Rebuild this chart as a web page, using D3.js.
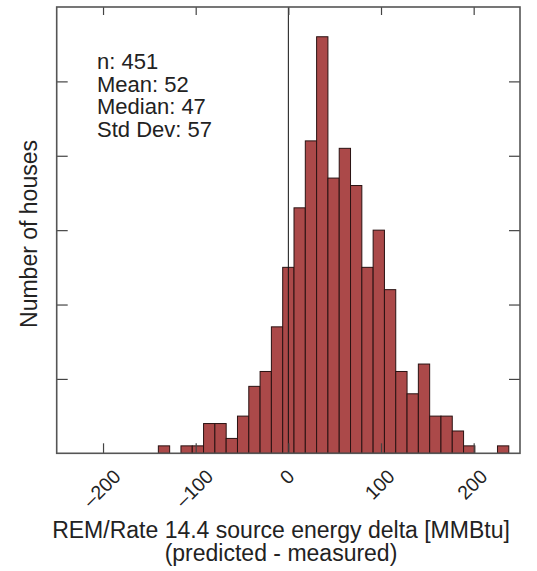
<!DOCTYPE html>
<html>
<head>
<meta charset="utf-8">
<script src="https://cdn.jsdelivr.net/npm/d3@7/dist/d3.min.js"></script>
<style>
  html, body { margin: 0; padding: 0; background: #fff; }
  svg { display: block; font-family: "Liberation Sans", Arial, Helvetica, sans-serif; }
</style>
</head>
<body>
<svg id="chart" width="537" height="571"></svg>
<script>
// ---- data ----
const binWidth = 12.2;
const binCenters = [-134.2, -122, -109.8, -97.6, -85.4, -73.2, -61, -48.8, -36.6, -24.4, -12.2,
  0, 12.2, 24.4, 36.6, 48.8, 61, 73.2, 85.4, 97.6, 109.8, 122, 134.2, 146.4, 158.6, 170.8,
  183, 195.2, 207.4, 219.6, 231.8];
const counts = [1, 0, 1, 1, 4, 4, 2, 5, 9, 11, 17,
  25, 33, 42, 56, 37, 41, 36, 25, 30, 22, 11, 8, 12, 5, 5,
  3, 1, 0, 0, 1];
const xTicks = [-200, -100, 0, 100, 200];
const xTickLabels = ["\u2013200", "\u2013100", "0", "100", "200"];
const yTicks = [10, 20, 30, 40, 50];
const statLines = ["n: 451", "Mean: 52", "Median: 47", "Std Dev: 57"];
const xTitle = ["REM/Rate 14.4 source energy delta [MMBtu]", "(predicted - measured)"];
const yTitle = "Number of houses";

// ---- layout ----
const svg = d3.select("#chart");
const L = 56.7, R = 520, T = 7, B = 453.3;
const x = d3.scaleLinear().domain([-250, 250]).range([L, R]);
const y = d3.scaleLinear().domain([0, 60]).range([B, T]);

const bins = binCenters.map((c, i) => ({x0: c - binWidth / 2, x1: c + binWidth / 2, n: counts[i]}))
  .filter(d => d.n > 0);

svg.append("g").selectAll("rect").data(bins).join("rect")
  .attr("x", d => x(d.x0))
  .attr("width", d => x(d.x1) - x(d.x0))
  .attr("y", d => y(d.n))
  .attr("height", d => y(0) - y(d.n))
  .attr("fill", "#ab4949")
  .attr("stroke", "#2a1212")
  .attr("stroke-width", 1);

// zero line
svg.append("line")
  .attr("x1", x(0)).attr("x2", x(0)).attr("y1", T).attr("y2", B)
  .attr("stroke", "#111").attr("stroke-width", 1);

// axes (inward ticks, no labels)
const axStyle = g => g.call(g => g.select(".domain").remove())
  .selectAll("line").attr("stroke", "#444").attr("stroke-width", 1.2);
svg.append("g").attr("transform", `translate(0,${B})`)
  .call(d3.axisTop(x).tickValues(xTicks).tickSize(10).tickFormat(""))
  .call(axStyle);
svg.append("g").attr("transform", `translate(0,${T})`)
  .call(d3.axisBottom(x).tickValues(xTicks).tickSize(8).tickFormat(""))
  .call(axStyle);
svg.append("g").attr("transform", `translate(${L},0)`)
  .call(d3.axisRight(y).tickValues(yTicks).tickSize(11).tickFormat(""))
  .call(axStyle);
svg.append("g").attr("transform", `translate(${R},0)`)
  .call(d3.axisLeft(y).tickValues(yTicks).tickSize(11).tickFormat(""))
  .call(axStyle);

// box
svg.append("rect")
  .attr("x", L).attr("y", T).attr("width", R - L).attr("height", B - T)
  .attr("fill", "none").attr("stroke", "#555").attr("stroke-width", 1.6);

// x tick labels rotated 45
xTicks.forEach((v, i) => {
  const g = svg.append("g").attr("transform", `translate(${x(v) - 1.5},0)`);
  g.append("text")
    .attr("text-anchor", "middle")
    .attr("dominant-baseline", "central")
    .attr("font-size", 19.5)
    .attr("fill", "#222")
    .attr("transform", "rotate(-45)")
    .text(xTickLabels[i]);
  const bb = g.node().getBBox();
  g.attr("transform", `translate(${x(v) - 1.5},${465 - bb.y})`);
});

// stats text
svg.append("g").selectAll("text").data(statLines).join("text")
  .attr("x", 97)
  .attr("y", (d, i) => 69 + i * 22.5)
  .attr("font-size", 22)
  .attr("fill", "#222")
  .text(d => d);

// x title
svg.append("g").selectAll("text").data(xTitle).join("text")
  .attr("x", 281)
  .attr("y", (d, i) => 538 + i * 23)
  .attr("text-anchor", "middle")
  .attr("font-size", 23)
  .attr("fill", "#222")
  .text(d => d);

// y title
svg.append("text")
  .attr("transform", `translate(37,${234}) rotate(-90)`)
  .attr("text-anchor", "middle")
  .attr("font-size", 23)
  .attr("fill", "#222")
  .text(yTitle);
</script>
</body>
</html>
